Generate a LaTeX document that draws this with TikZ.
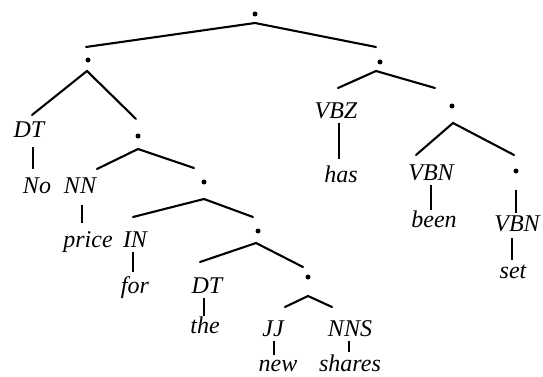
\documentclass[tikz,border=0pt]{standalone}
\usepackage{fontspec}
\setmainfont{Liberation Serif}
\begin{document}
\begin{tikzpicture}[x=1pt,y=-1pt,
  lbl/.style={anchor=base,inner sep=0pt,text height=16pt,text depth=5pt,font=\fontsize{24}{24}\selectfont\itshape},
  dotn/.style={circle,fill=black,inner sep=0pt,minimum size=5pt},
  br/.style={line width=2.1pt,line cap=round},
  vl/.style={line width=2.1pt}]
\useasboundingbox (0,0) rectangle (543,377);
% internal dots and their apex points
\node[dotn] (r) at (255,14) {};       \coordinate (ra) at (255,23);
\node[dotn] (L) at (88,60) {};        \coordinate (La) at (87,71);
\node[dotn] (R) at (380,62) {};       \coordinate (Ra) at (376,71);
\node[dotn] (LR) at (138,136) {};     \coordinate (LRa) at (138,149);
\node[dotn] (LRR) at (204,182) {};    \coordinate (LRRa) at (204,199);
\node[dotn] (LRRR) at (258,231) {};   \coordinate (LRRRa) at (256,243);
\node[dotn] (LRRRR) at (308,277) {};  \coordinate (LRRRRa) at (308,296);
\node[dotn] (RR) at (452,106) {};     \coordinate (RRa) at (453,123);
\node[dotn] (RRR) at (516,171) {};
% branch ends
\coordinate (e1) at (86,47);   \coordinate (e2) at (376,47);
\coordinate (e3) at (32,115);  \coordinate (e4) at (136,119);
\coordinate (e5) at (338,88);  \coordinate (e6) at (435,88);
\coordinate (e7) at (97,169);  \coordinate (e8) at (194,168);
\coordinate (e9) at (133,217); \coordinate (e10) at (253,217);
\coordinate (e11) at (200,262);\coordinate (e12) at (303,267);
\coordinate (e13) at (285,307);\coordinate (e14) at (332,307);
\coordinate (e15) at (416,155);\coordinate (e16) at (514,155);
% labels
\node[lbl] (dt1) at (29,137) {DT};
\node[lbl] (no) at (37,193) {No};
\node[lbl] (nn) at (80,193) {NN};
\node[lbl] (price) at (88,247) {price};
\node[lbl] (in) at (135,247) {IN};
\node[lbl] (for) at (135,293) {for};
\node[lbl] (dt2) at (207,293) {DT};
\node[lbl] (the) at (205,333) {the};
\node[lbl] (jj) at (273,336) {JJ};
\node[lbl,text depth=1pt] (new) at (278,371) {new};
\node[lbl] (nns) at (350,336) {NNS};
\node[lbl,text depth=1pt] (shares) at (350,371) {shares};
\node[lbl] (vbz) at (336,118) {VBZ};
\node[lbl] (has) at (341,182) {has};
\node[lbl] (vbn1) at (431,180) {VBN};
\node[lbl] (been) at (434,227) {been};
\node[lbl] (vbn2) at (517,231) {VBN};
\node[lbl] (set) at (513,278) {set};
% branches
\draw[br] (e1) -- (ra) -- (e2);
\draw[br] (e3) -- (La) -- (e4);
\draw[br] (e5) -- (Ra) -- (e6);
\draw[br] (e7) -- (LRa) -- (e8);
\draw[br] (e9) -- (LRRa) -- (e10);
\draw[br] (e11) -- (LRRRa) -- (e12);
\draw[br] (e13) -- (LRRRRa) -- (e14);
\draw[br] (e15) -- (RRa) -- (e16);
% unary lines
\draw[vl,shorten <=5pt,shorten >=8pt] ([xshift=4pt]dt1.south) -- ([xshift=4pt]dt1.south |- no.north);
\draw[vl,shorten <=7pt,shorten >=8pt] ([xshift=2pt]nn.south) -- ([xshift=2pt]nn.south |- price.north);
\draw[vl,shorten >=5pt] ([xshift=-2pt]in.south) -- ([xshift=-2pt]in.south |- for.north);
\draw[vl,shorten >=1pt] ([xshift=-3pt]dt2.south) -- ([xshift=-3pt]dt2.south |- the.north);
\draw[vl,shorten >=0pt] ([xshift=1pt]jj.south) -- ([xshift=1pt]jj.south |- new.north);
\draw[vl,shorten >=3pt] ([xshift=-1pt]nns.south) -- ([xshift=-1pt]nns.south |- shares.north);
\draw[vl,shorten >=7pt] ([xshift=3pt]vbz.south) -- ([xshift=3pt]vbz.south |- has.north);
\draw[vl,shorten >=1pt] (vbn1.south) -- (vbn1.south |- been.north);
\draw[vl,shorten <=16pt,shorten >=2pt] (RRR.south) -- (RRR.south |- vbn2.north);
\draw[vl,shorten <=2pt,shorten >=2pt] ([xshift=-5pt]vbn2.south) -- ([xshift=-5pt]vbn2.south |- set.north);
\end{tikzpicture}
\end{document}
